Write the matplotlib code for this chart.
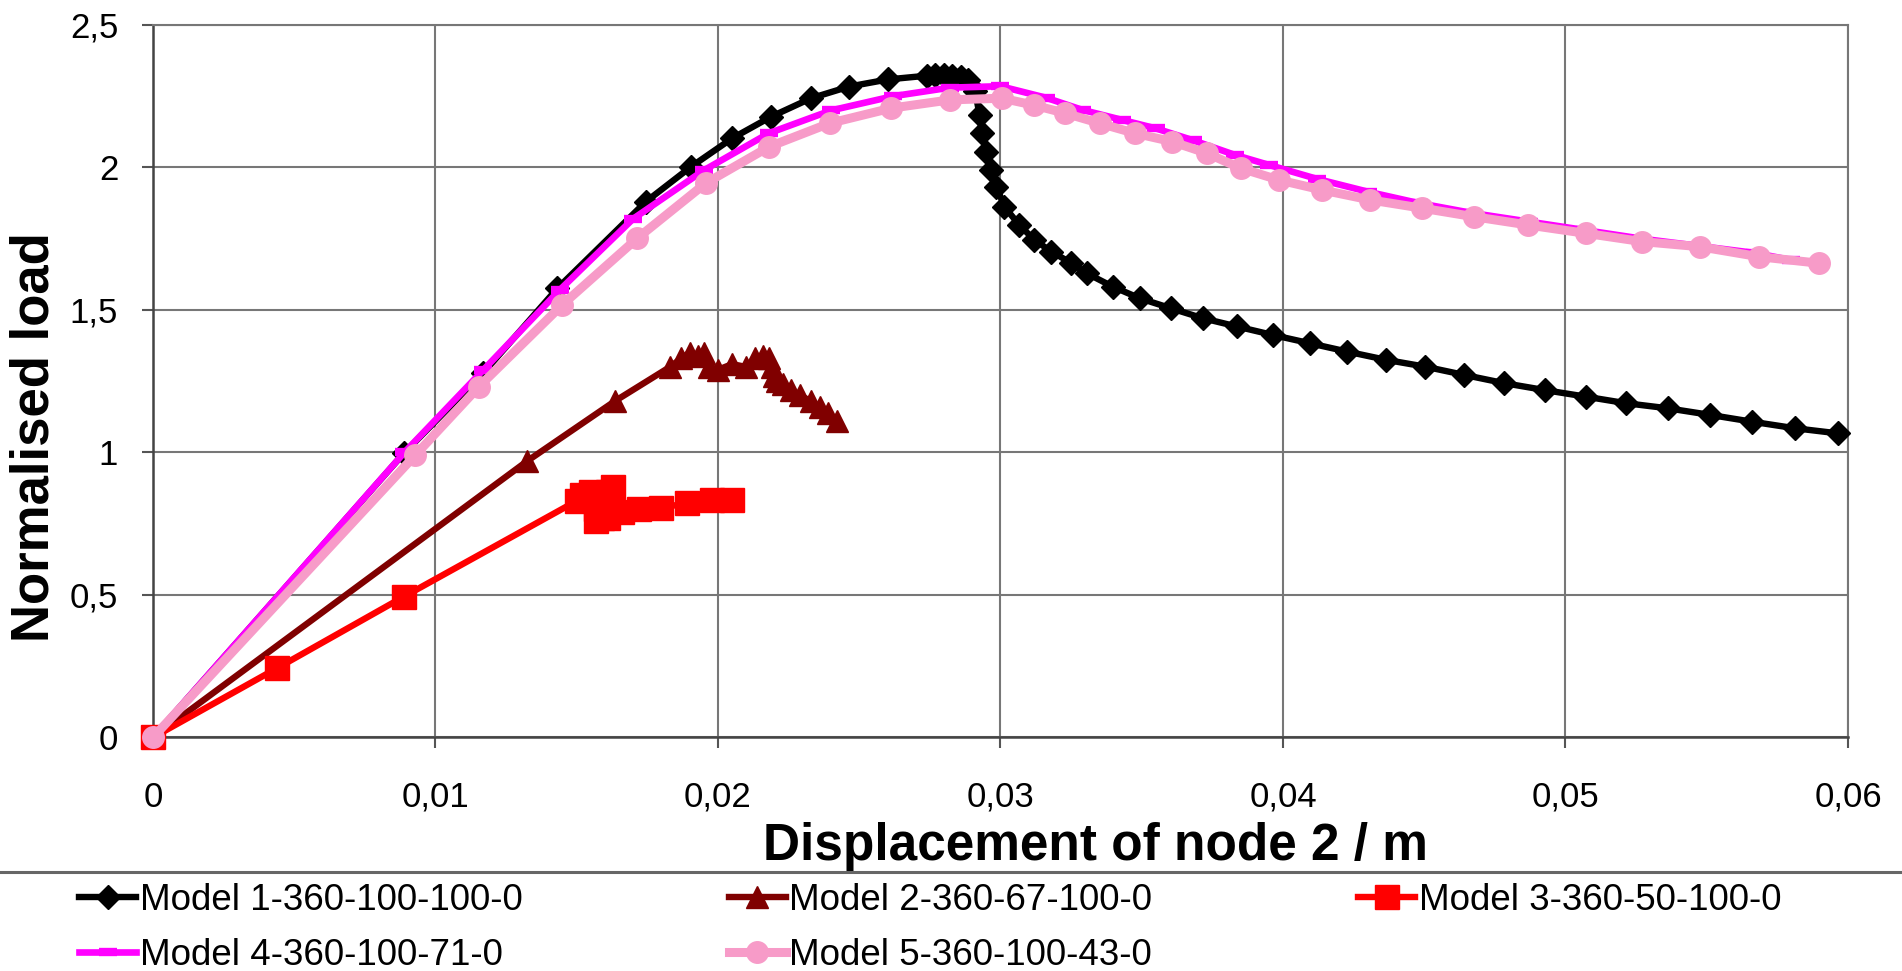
import numpy as np
import matplotlib
matplotlib.use("Agg")
import matplotlib.pyplot as plt
from matplotlib import rcParams
from matplotlib.lines import Line2D

rcParams["font.family"] = ["Liberation Sans", "DejaVu Sans"]
rcParams["font.size"] = 24

# Model 1-360-100-100-0
x1 = [0, 0.00888, 0.0117, 0.01432, 0.01745, 0.01904, 0.0205, 0.02188, 0.0233, 0.02465,
      0.02603, 0.0274, 0.0277, 0.0280, 0.0283, 0.0286, 0.02885, 0.0291, 0.02926, 0.02935,
      0.0295, 0.02968, 0.02986, 0.03014, 0.03067, 0.0312, 0.0318, 0.0325, 0.03305, 0.03397,
      0.03493, 0.03603, 0.03716, 0.03837, 0.03965, 0.04096, 0.04227, 0.04365, 0.04504, 0.04642,
      0.04784, 0.04926, 0.05071, 0.05213, 0.05362, 0.05511, 0.05660, 0.05812, 0.05965]
y1 = [0, 0.997, 1.28, 1.576, 1.880, 2.002, 2.102, 2.178, 2.243, 2.284,
      2.309, 2.322, 2.325, 2.325, 2.322, 2.318, 2.307, 2.27, 2.184, 2.12,
      2.055, 1.991, 1.933, 1.862, 1.798, 1.746, 1.705, 1.665, 1.629, 1.582,
      1.541, 1.506, 1.471, 1.442, 1.412, 1.383, 1.354, 1.325, 1.301, 1.272,
      1.243, 1.219, 1.196, 1.173, 1.155, 1.132, 1.108, 1.085, 1.067]

# Model 2-360-67-100-0
x2 = [0, 0.01325, 0.01635, 0.0183, 0.0187, 0.0190, 0.0193, 0.0195, 0.0197, 0.0200,
      0.0205, 0.0210, 0.0213, 0.0216, 0.0218, 0.0219, 0.0220, 0.0221, 0.0223, 0.0226,
      0.0229, 0.0233, 0.0236, 0.0239, 0.0242]
y2 = [0, 0.97, 1.18, 1.30, 1.33, 1.35, 1.34, 1.35, 1.30, 1.29,
      1.31, 1.30, 1.33, 1.34, 1.33, 1.30, 1.27, 1.25, 1.24, 1.22,
      1.20, 1.18, 1.16, 1.14, 1.11]

# Model 3-360-50-100-0
x3 = [0, 0.00439, 0.00888, 0.0150, 0.0152, 0.0155, 0.0157, 0.0159, 0.0161, 0.0163,
      0.0162, 0.0159, 0.0157, 0.0161, 0.0166, 0.0172, 0.0180, 0.0189, 0.0198, 0.0205]
y3 = [0, 0.243, 0.494, 0.83, 0.85, 0.86, 0.80, 0.77, 0.86, 0.88,
      0.84, 0.79, 0.76, 0.77, 0.79, 0.80, 0.805, 0.823, 0.833, 0.833]

# Model 4-360-100-71-0
x4 = [0, 0.0089, 0.0117, 0.0144, 0.0170, 0.0195, 0.0218, 0.0240, 0.0262, 0.0282,
      0.0300, 0.0316, 0.0329, 0.0343, 0.0355, 0.0368, 0.0383, 0.0395, 0.0412, 0.0430,
      0.0448, 0.0467, 0.0487, 0.0507, 0.0527, 0.0547, 0.0567, 0.0580]
y4 = [0, 1.00, 1.29, 1.57, 1.82, 1.99, 2.12, 2.20, 2.25, 2.28,
      2.285, 2.245, 2.202, 2.167, 2.137, 2.096, 2.044, 2.009, 1.96, 1.915,
      1.875, 1.84, 1.81, 1.78, 1.75, 1.725, 1.70, 1.675]

# Model 5-360-100-43-0
x5 = [0, 0.00929, 0.01154, 0.01449, 0.01715, 0.01957, 0.02182, 0.02395, 0.02613, 0.0282,
      0.03004, 0.03117, 0.0323, 0.03351, 0.03475, 0.03606, 0.03730, 0.03851, 0.03986, 0.04138,
      0.04309, 0.04493, 0.04677, 0.04869, 0.05071, 0.05270, 0.05475, 0.05684, 0.05897]
y5 = [0, 0.991, 1.231, 1.518, 1.752, 1.945, 2.073, 2.155, 2.208, 2.237,
      2.243, 2.219, 2.190, 2.155, 2.120, 2.091, 2.050, 1.997, 1.956, 1.921,
      1.886, 1.857, 1.827, 1.798, 1.769, 1.740, 1.722, 1.687, 1.664]

labels = ["Model 1-360-100-100-0", "Model 2-360-67-100-0", "Model 3-360-50-100-0",
          "Model 4-360-100-71-0", "Model 5-360-100-43-0"]

xticks = [0, 0.01, 0.02, 0.03, 0.04, 0.05, 0.06]
xticklabels = ["0", "0,01", "0,02", "0,03", "0,04", "0,05", "0,06"]
yticks = [0, 0.5, 1, 1.5, 2, 2.5]
yticklabels = ["0", "0,5", "1", "1,5", "2", "2,5"]

GRID = "#777777"

fig = plt.figure(figsize=(19.02, 9.71), dpi=100)
ax = fig.add_axes([0.0804, 0.2405, 0.8912, 0.7338])

h1, = ax.plot(x1, y1, "-", color="black", lw=4.6, marker="D", ms=12.5, clip_on=False, zorder=3)
h2, = ax.plot(x2, y2, "-", color="#800000", lw=4.6, marker="^", ms=16, clip_on=False, zorder=4)
h3, = ax.plot(x3, y3, "-", color="#FF0000", lw=4.6, marker="s", ms=17, clip_on=False, zorder=5)
h4, = ax.plot(x4, y4, "-", color="#FF00FF", lw=4.8, marker="_", ms=13, mew=6,
              clip_on=False, zorder=6)
h5, = ax.plot(x5, y5, "-", color="#F79BC8", lw=6.5, marker="o", ms=15.5, clip_on=False, zorder=7)

ax.set_xlim(0, 0.06)
ax.set_ylim(0, 2.5)
ax.set_xticks(xticks)
ax.set_xticklabels(xticklabels)
ax.set_yticks(yticks)
ax.set_yticklabels(yticklabels)
ax.grid(True, color=GRID, lw=1.5)
ax.set_axisbelow(True)
ax.tick_params(axis="both", direction="out", length=8, width=1.5, color="#555555",
               labelsize=25)
ax.tick_params(axis="x", pad=23)
ax.tick_params(axis="y", pad=17)
for s in ["left", "bottom"]:
    ax.spines[s].set_color("#444444")
    ax.spines[s].set_linewidth(1.8)
for s in ["top", "right"]:
    ax.spines[s].set_color(GRID)
    ax.spines[s].set_linewidth(1.5)

fig.text(1095 / 1902, 1 - 860 / 971, "Displacement of node 2 / m", ha="center",
         va="baseline", fontsize=37, fontweight="bold")
fig.text(35 / 1902, 1 - 437 / 971, "Normalised load", ha="center", va="center",
         rotation=90, fontsize=38, fontweight="bold")

# separator line above legend
fig.add_artist(Line2D([0, 1], [1 - 871.5 / 971] * 2, transform=fig.transFigure,
                      color="#666666", lw=2.2))

handles = [h1, h4, h2, h5, h3]
leg_labels = [labels[0], labels[3], labels[1], labels[4], labels[2]]
fig.legend(handles, leg_labels, ncol=3, loc="upper left",
           bbox_to_anchor=(79 / 1902, 1 - 883 / 971), frameon=False,
           borderpad=0, borderaxespad=0, handlelength=1.55, handletextpad=0.1,
           columnspacing=5.6, labelspacing=0.55, fontsize=26.5)

plt.savefig("out.png", dpi=100)
plt.close()
